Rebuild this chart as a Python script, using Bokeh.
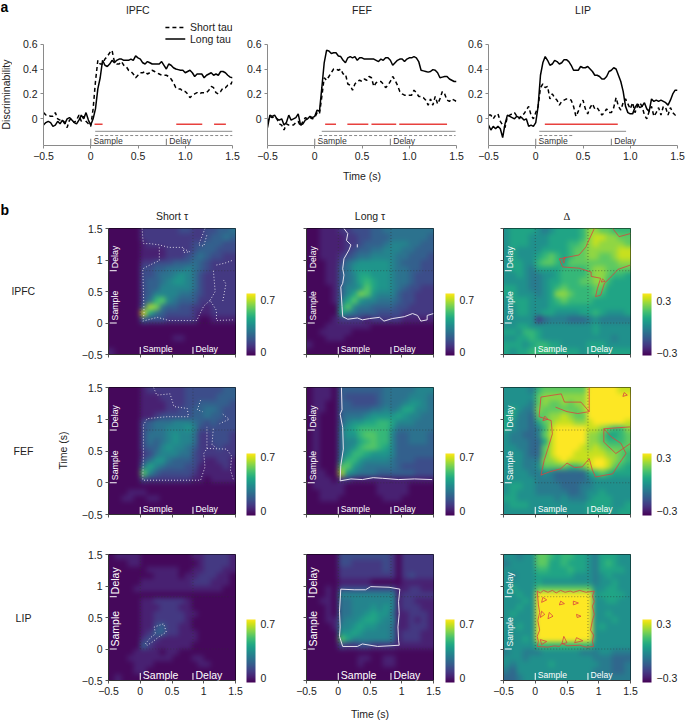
import math
import numpy as np
from bokeh.document import Document
from bokeh.embed import file_html
from bokeh.resources import INLINE
from bokeh.plotting import figure
from bokeh.layouts import column, row
from bokeh.models import Range1d, Label, LinearColorMapper, ColorBar, FixedTicker, CustomJS
from bokeh.palettes import Viridis256

FONT = "Liberation Sans"
t = [round(-0.5 + 0.025 * i, 3) for i in range(81)]

lpfc_long = [-.05,-.03,-.02,-.03,-.06,-.05,-.02,-.04,-.01,-.04,0,.01,-.01,-.03,-.04,-.01,.03,0,.05,-.01,-.05,0,.08,.24,.33,.47,.43,.42,.44,.47,.45,.47,.48,.48,.47,.47,.47,.48,.47,.505,.49,.48,.45,.44,.46,.45,.44,.44,.44,.44,.46,.43,.40,.44,.43,.41,.40,.395,.39,.39,.37,.38,.39,.37,.34,.36,.36,.36,.33,.35,.36,.37,.35,.36,.35,.38,.38,.37,.35,.335,.33]
lpfc_short = [.05,.03,.03,.02,.02,.05,0,-.01,-.01,-.03,-.07,-.01,0,-.03,-.01,.03,-.02,.02,-.02,-.04,-.06,.08,.3,.47,.44,.44,.48,.5,.53,.55,.46,.44,.44,.46,.43,.42,.39,.38,.36,.33,.35,.37,.37,.38,.36,.37,.39,.38,.37,.36,.35,.35,.35,.34,.32,.29,.25,.24,.24,.22,.22,.2,.17,.19,.2,.21,.2,.21,.21,.21,.23,.26,.25,.21,.2,.22,.25,.25,.27,.27,.3]
fef_long = [-.07,.03,.02,.03,0,-.01,0,-.05,-.03,.03,-.01,0,.01,.04,-.05,-.04,-.01,0,.02,.01,.02,.07,.06,.25,.45,.55,.545,.525,.53,.53,.505,.5,.47,.45,.49,.5,.49,.5,.47,.49,.49,.48,.48,.48,.48,.48,.47,.46,.48,.47,.49,.49,.47,.43,.45,.47,.48,.48,.46,.48,.49,.49,.5,.49,.46,.39,.385,.38,.375,.38,.395,.39,.37,.33,.335,.34,.34,.32,.31,.3,.3]
fef_short = [-.03,.02,.01,.02,0,-.04,-.05,-.09,-.04,-.05,-.05,-.05,-.03,-.02,-.06,-.02,.01,0,.01,0,.01,.05,.04,.18,.33,.31,.34,.37,.4,.4,.39,.4,.36,.36,.28,.27,.23,.28,.3,.31,.3,.32,.31,.34,.33,.26,.29,.3,.3,.28,.25,.27,.3,.34,.31,.27,.22,.2,.19,.19,.19,.19,.23,.21,.18,.18,.17,.15,.11,.16,.11,.18,.12,.16,.22,.2,.15,.14,.16,.15,.14]
lip_long = [-.05,-.09,-.06,-.08,-.06,-.08,-.15,-.04,.03,.02,.01,0,.02,.01,.01,-.01,0,-.06,-.05,-.06,-.03,.1,.35,.45,.5,.47,.43,.44,.47,.46,.44,.45,.475,.475,.46,.43,.39,.39,.39,.42,.41,.41,.42,.4,.38,.35,.35,.34,.32,.32,.34,.38,.39,.41,.4,.35,.3,.22,.1,.05,.04,.04,.09,.12,.09,.1,.13,.08,.06,.16,.14,.15,.14,.15,.14,.13,.11,.15,.2,.23,.23]
lip_short = [.03,.03,0,.03,.04,-.02,-.05,-.07,.02,.03,.04,.05,.02,0,.03,.04,.07,.1,.03,0,.05,.1,.25,.28,.25,.26,.16,.2,.17,.15,.11,.14,.15,.16,.16,.15,.1,.02,.06,.12,.15,.08,.04,.09,.12,.08,.09,.06,.03,.05,.08,.05,.05,.09,.17,.1,.07,.13,.16,.12,.08,.13,.05,.1,.13,.1,.03,0,.06,.1,.02,.05,.09,.03,.1,.09,.03,.09,.05,.03,.04]

sig_red = [[(.04,.125),(.905,1.18),(1.305,1.43)], [(.11,.225),(.345,.567),(.6,.862),(.894,1.4)], [(.096,.868)]]
sig_long = [(.047,1.5),(.074,1.49),(.037,.956)]
sig_short = [(.047,1.5),(.046,1.49),(.037,.4)]
area_names = ["lPFC","FEF","LIP"]

# grid rows from y=1.45 (top) to y=-0.45, columns from x=-0.45 to 1.45; unit 0.05
h_lpfc_short = [
[0,0,0,0,0,2,2,2,2,2,2,3,3,2,2,3,3,4,4,5],
[0,0,0,0,0,2,2,2,2,2,2,2,2,2,2,3,4,4,5,4],
[0,0,0,0,0,1,2,2,2,2,2,2,2,3,3,4,4,4,3,3],
[0,0,0,0,0,1,1,1,1,2,2,2,2,3,4,4,4,3,3,3],
[0,0,0,0,0,1,1,1,1,2,2,2,3,4,5,4,3,3,2,2],
[0,0,0,0,0,2,2,3,3,3,4,4,4,5,4,3,2,2,2,2],
[0,0,0,0,0,3,3,4,4,5,5,5,6,5,4,3,2,2,2,2],
[0,0,0,0,0,3,3,4,5,5,6,7,6,5,3,2,2,2,2,2],
[0,0,0,0,0,3,4,4,5,6,7,7,6,5,3,2,2,2,2,2],
[0,0,0,0,0,3,4,4,6,6,6,6,6,5,3,2,2,2,2,2],
[0,0,0,0,0,3,4,6,6,6,6,5,5,4,3,2,2,2,2,2],
[0,0,0,0,0,3,5,9,10,6,5,4,4,4,2,2,2,2,2,2],
[0,0,0,0,0,4,12,11,5,4,4,3,3,2,2,1,2,2,2,2],
[0,0,0,0,0,13,8,5,4,3,3,3,3,2,1,1,2,2,2,2],
[0,0,0,0,0,4,3,3,3,2,2,2,2,2,0,0,1,1,1,1],
[0,0,0,0,0,0,0,0,0,0,0,0,0,0,0,0,0,0,0,0],
[0,0,0,0,0,0,0,0,0,0,0,0,0,0,0,0,0,0,0,0],
[0,0,0,0,0,0,0,0,0,0,1,1,0,0,0,0,0,0,0,0],
[0,0,0,0,0,0,0,0,0,0,0,0,0,0,0,0,0,0,0,0],
[1,0,0,0,0,0,0,0,0,0,0,0,0,0,0,0,0,0,0,0]]
h_lpfc_long = [
[0,0,1,1,1,2,2,3,3,3,4,4,5,5,5,5,5,5,5,5],
[0,0,1,1,1,1,2,2,3,3,4,4,4,5,5,5,5,5,5,4],
[0,0,1,1,1,1,2,2,3,4,4,4,5,6,6,6,5,5,4,4],
[0,0,1,1,1,1,2,3,4,4,5,5,6,6,6,5,5,4,4,4],
[0,0,1,1,1,2,3,4,5,5,6,6,6,6,5,5,4,4,4,3],
[0,0,0,1,1,3,5,6,7,7,7,7,7,6,5,4,4,4,3,3],
[0,0,0,1,1,4,5,7,7,7,7,7,7,6,5,5,4,4,3,3],
[0,0,0,1,1,4,5,6,8,8,7,7,7,6,5,5,4,3,3,3],
[0,0,0,1,1,4,5,6,8,9,8,7,7,6,5,5,4,3,3,3],
[0,0,0,0,1,4,6,6,7,10,8,7,7,6,5,4,3,3,2,2],
[0,0,0,0,1,4,6,8,11,10,7,6,6,6,4,3,3,2,2,2],
[0,0,0,0,1,5,8,10,7,6,6,5,5,5,4,3,3,2,2,2],
[0,0,0,0,0,7,10,6,5,5,4,4,4,4,3,3,2,2,2,2],
[0,0,0,0,0,8,6,5,4,4,4,3,3,3,3,2,2,2,2,2],
[0,0,0,0,1,2,2,2,2,1,2,2,2,2,2,1,1,1,1,1],
[0,0,0,1,1,1,1,1,1,1,0,0,0,0,0,0,0,0,0,0],
[0,0,1,1,1,1,1,0,0,0,0,0,0,0,0,0,0,0,0,0],
[0,0,0,1,1,1,0,0,0,0,0,0,0,0,0,0,0,0,0,0],
[1,0,0,0,0,0,0,0,0,0,0,0,0,0,0,0,0,0,0,0],
[0,0,0,0,0,0,0,0,0,0,0,0,0,0,0,0,0,0,0,0]]
h_lpfc_delta = [
[0,1,1,1,1,0,-1,0,1,1,1,1,2,4,4,3,3,2,2,2],
[0,1,1,1,0,0,0,1,1,1,1,1,2,4,5,5,4,4,3,3],
[0,1,1,1,0,0,0,1,1,1,2,2,3,4,5,4,4,4,4,3],
[0,1,0,0,0,0,1,1,1,1,2,3,3,4,4,4,4,4,5,5],
[0,1,0,0,0,1,2,3,2,1,2,3,3,4,4,3,3,4,5,5],
[0,1,1,0,0,2,3,3,2,1,3,3,3,3,3,3,3,3,4,4],
[0,1,1,0,-1,1,1,1,1,2,2,2,2,3,4,4,3,3,3,3],
[0,0,1,0,-1,-1,0,0,1,2,2,2,2,3,4,4,3,2,2,1],
[0,0,0,0,-1,-1,0,1,1,2,2,2,3,3,4,4,2,1,1,1],
[1,1,0,0,-1,-1,0,1,2,3,2,2,2,2,3,3,1,1,1,1],
[1,1,0,0,0,-1,0,1,4,4,3,2,2,2,3,2,1,1,1,1],
[0,1,1,1,0,0,0,1,2,3,2,2,2,2,1,1,1,1,1,1],
[0,0,1,1,0,0,0,1,1,1,1,1,1,1,1,1,1,1,1,1],
[0,0,1,1,0,0,1,1,0,0,0,0,1,1,2,1,0,0,0,1],
[0,0,0,0,0,-4,-2,-1,-1,-1,-2,-2,-2,-1,0,-1,-1,-1,-1,-1],
[0,0,1,1,0,0,0,0,0,0,0,0,0,0,1,0,0,0,0,0],
[1,1,0,2,2,1,0,0,0,0,0,0,0,0,1,0,0,0,0,0],
[0,0,1,1,2,1,0,0,0,0,0,0,0,0,0,0,0,-1,0,0],
[1,1,1,0,1,2,2,1,1,0,0,0,0,1,1,1,0,0,0,0],
[1,0,1,1,2,2,2,2,1,1,1,1,0,1,1,1,1,1,1,1]]
h_fef_short = [
[0,0,0,0,0,1,2,2,2,2,2,2,3,3,3,3,3,3,4,4],
[0,0,0,0,0,1,1,1,2,2,2,2,3,3,3,3,3,4,4,4],
[0,0,0,0,0,1,1,1,1,2,2,2,3,3,4,4,4,4,4,3],
[0,0,0,0,0,1,1,1,1,2,2,3,3,4,4,5,5,4,3,3],
[0,0,0,0,0,1,1,2,3,3,3,3,3,4,4,5,4,4,3,3],
[0,0,0,0,0,3,4,5,5,5,6,6,6,5,4,3,4,3,3,3],
[0,0,0,0,0,3,4,5,5,6,6,6,7,6,3,3,3,3,3,3],
[0,0,0,0,0,3,5,5,5,6,7,6,6,5,2,2,3,3,3,2],
[0,0,0,0,0,3,5,4,5,6,7,6,6,5,2,2,3,3,3,2],
[0,0,0,0,0,3,4,4,6,7,6,6,5,4,2,2,2,3,2,2],
[0,0,0,0,0,2,3,5,6,6,6,5,5,3,2,2,2,2,2,2],
[0,0,0,0,0,3,5,7,7,5,4,4,4,3,2,1,1,2,2,1],
[0,0,0,0,0,5,8,6,5,4,4,4,3,3,1,1,1,1,2,1],
[0,0,0,0,0,10,6,4,3,3,3,3,3,2,1,1,1,1,1,1],
[0,0,0,0,0,3,2,2,2,2,2,2,2,1,1,0,1,1,1,1],
[0,0,0,0,0,0,0,0,0,0,0,0,0,0,0,0,0,0,0,0],
[0,0,0,1,1,1,0,0,0,0,0,0,0,0,0,0,0,0,0,0],
[0,0,1,1,0,0,1,1,0,0,0,0,0,0,0,0,0,0,0,0],
[0,0,0,0,0,0,0,0,0,0,0,0,0,0,0,0,0,0,0,0],
[0,0,0,0,0,0,0,0,0,0,0,0,0,0,0,0,0,0,0,0]]
h_fef_long = [
[0,1,1,1,0,4,4,4,4,4,4,4,5,5,5,5,5,6,6,6],
[0,1,1,1,0,4,3,3,3,3,3,4,5,5,5,5,6,6,6,5],
[0,1,1,0,0,4,4,3,3,3,3,4,5,5,5,6,7,7,6,5],
[0,1,1,0,0,4,4,4,4,4,5,5,6,5,6,8,8,6,6,5],
[0,1,0,0,0,4,5,5,5,6,7,7,7,7,8,7,6,6,5,5],
[0,1,0,0,0,4,6,7,7,8,8,9,9,8,6,6,6,5,5,5],
[0,1,0,0,0,5,7,8,9,9,9,9,9,7,5,5,5,5,5,5],
[0,1,0,0,0,5,7,7,9,10,10,9,9,6,4,4,5,5,5,4],
[0,1,0,0,0,5,6,6,8,9,10,9,9,6,4,4,5,5,5,4],
[0,1,0,0,0,5,6,7,9,10,10,9,8,6,4,4,4,4,4,4],
[0,1,0,0,0,5,7,9,9,8,7,7,7,6,4,4,4,4,4,4],
[0,1,0,0,0,6,9,9,7,6,6,6,6,5,4,4,4,3,3,3],
[0,1,0,0,0,10,10,7,6,5,5,5,5,5,4,3,3,3,3,3],
[0,1,1,0,0,12,7,6,5,5,5,4,4,4,4,4,4,3,3,3],
[0,1,1,1,0,2,2,1,1,1,1,1,1,1,1,1,1,1,1,1],
[0,1,1,1,1,1,0,0,0,0,0,1,1,1,1,1,0,0,0,0],
[0,0,1,1,1,1,0,0,0,0,0,1,1,1,1,1,0,0,0,0],
[0,0,1,1,1,0,0,0,0,0,0,0,1,1,1,0,0,0,0,0],
[0,0,0,0,0,0,0,0,0,0,0,0,0,0,0,0,0,0,0,0],
[0,0,0,0,0,0,0,0,0,0,0,0,0,0,0,0,0,0,0,0]]
h_fef_delta = [
[0,0,0,0,-1,2,3,3,3,3,3,3,3,6,6,6,6,6,5,5],
[0,0,0,0,0,3,4,4,4,4,4,4,4,6,6,6,6,6,6,6],
[0,0,0,0,-1,3,4,3,3,4,3,4,4,6,6,6,6,6,6,6],
[0,1,0,-1,-1,4,3,3,3,3,3,3,4,6,6,6,6,6,6,6],
[1,1,-1,-1,-2,3,3,4,4,5,4,3,3,6,6,6,6,6,6,6],
[1,0,-1,-1,-2,1,3,4,5,5,5,4,4,5,6,6,6,6,6,5],
[1,0,-1,-1,-2,-1,2,5,6,6,6,6,6,5,5,4,3,2,2,4],
[0,-1,-1,-2,-2,-1,3,5,6,6,6,6,6,4,4,3,1,1,2,3],
[0,-1,-1,-1,-2,-2,1,5,6,6,6,6,6,4,4,3,2,2,2,3],
[0,0,-1,-1,-2,-2,3,5,6,6,6,6,5,4,5,4,3,3,3,3],
[0,0,0,-1,-2,-2,3,5,6,6,6,5,5,5,5,5,4,4,3,2],
[0,0,0,-1,-1,-1,4,4,5,6,5,5,5,5,6,6,5,4,3,2],
[0,0,0,-1,-1,0,3,3,3,3,2,2,3,5,6,6,5,3,2,1],
[0,0,0,0,-1,-1,0,-1,-2,-2,-2,-2,-2,1,2,3,2,1,1,1],
[0,0,0,0,0,-1,-1,-1,-2,-2,-2,-2,-2,-1,0,0,0,0,0,0],
[0,1,1,0,0,-1,-1,-1,-1,-2,-2,-2,-1,-1,0,0,0,0,0,0],
[0,1,0,0,0,-1,-1,-1,-1,-1,-2,-2,-1,0,0,1,0,0,0,0],
[1,1,0,0,0,0,0,0,-1,0,-1,-1,-1,0,1,1,1,0,0,0],
[0,1,1,1,0,0,0,0,0,0,0,0,0,1,1,1,1,0,0,1],
[0,0,0,0,0,0,0,1,0,0,0,0,0,1,1,1,1,0,1,1]]
h_lip_short = [
[0,1,1,1,1,0,0,0,0,0,0,0,0,1,1,2,2,2,2,1],
[0,0,0,1,1,0,0,0,0,0,0,0,0,0,1,2,2,2,2,1],
[0,0,0,0,0,0,1,1,1,1,1,0,0,1,1,2,2,2,1,1],
[0,0,0,0,0,0,0,1,1,1,1,0,1,1,2,2,2,1,1,0],
[0,0,0,0,0,1,1,1,1,1,1,1,1,2,2,2,1,1,1,0],
[0,0,0,0,1,1,1,1,1,1,1,1,1,1,1,1,1,1,0,0],
[0,0,0,0,0,0,0,0,0,0,0,0,0,0,0,0,0,0,0,0],
[0,0,0,0,0,1,1,2,2,2,2,2,1,0,0,0,0,0,0,0],
[0,0,0,0,0,1,1,1,2,2,2,1,1,0,0,0,0,0,0,0],
[0,0,0,0,0,1,1,2,2,2,2,2,1,1,0,0,0,0,0,0],
[0,0,0,0,0,1,1,2,2,2,2,2,1,0,0,0,0,0,0,0],
[0,0,0,0,0,1,1,3,4,2,2,1,1,0,0,0,0,0,0,0],
[0,0,0,0,0,1,2,4,4,2,2,1,1,1,0,0,0,0,0,0],
[0,0,0,0,0,2,3,2,1,1,1,1,1,1,0,0,0,0,0,0],
[0,0,0,0,0,4,2,1,1,1,1,1,1,0,0,0,0,0,0,0],
[0,0,0,0,1,1,1,1,0,1,1,0,0,0,0,0,0,0,0,0],
[0,0,0,1,1,1,1,1,1,1,0,0,0,1,1,0,0,0,0,0],
[0,0,0,0,1,1,1,0,0,0,0,0,0,0,1,1,0,0,0,0],
[0,0,0,0,1,1,0,0,0,0,0,0,0,0,0,0,0,0,0,0],
[0,1,0,0,0,0,0,0,0,0,0,0,0,0,0,0,0,0,0,0]]
h_lip_long = [
[0,0,0,0,0,3,3,3,3,3,3,3,3,2,0,2,2,2,2,2],
[0,0,0,0,0,3,3,2,2,2,2,2,3,2,0,2,2,2,2,2],
[0,0,0,0,0,2,2,2,2,2,2,2,3,2,0,2,2,2,2,2],
[0,0,0,0,0,2,2,2,2,2,2,2,2,2,0,2,3,2,2,2],
[0,0,0,0,0,1,1,1,1,1,0,0,0,0,0,1,1,1,1,1],
[0,0,0,1,0,3,3,3,3,3,3,3,3,3,1,1,2,2,1,1],
[0,0,0,1,0,6,6,6,6,6,6,6,6,6,1,2,2,2,2,2],
[0,0,1,1,0,5,5,6,6,6,6,6,6,6,1,2,2,1,1,1],
[0,0,0,1,0,5,5,6,6,6,7,6,7,6,1,2,2,2,1,1],
[0,0,0,1,0,5,5,6,6,7,8,7,7,5,1,1,2,2,2,1],
[0,0,0,1,1,5,6,6,7,8,8,7,6,6,1,1,2,1,2,1],
[0,0,0,0,1,6,6,7,8,7,7,6,6,5,1,1,2,2,2,1],
[0,0,0,0,0,7,7,8,7,6,6,6,6,5,1,2,2,2,1,1],
[0,0,0,0,0,10,8,6,6,6,6,6,6,5,1,2,2,2,1,1],
[0,0,0,0,0,3,2,2,3,3,2,2,2,2,1,1,1,1,1,1],
[0,0,0,0,0,0,0,0,0,0,0,0,0,0,0,0,0,0,0,0],
[0,0,0,0,0,0,0,0,1,1,0,0,1,1,0,0,0,0,0,0],
[0,0,0,0,0,0,0,0,1,0,0,0,1,1,0,0,0,0,0,0],
[0,0,0,0,0,0,0,0,0,0,0,0,0,0,0,0,0,0,0,0],
[0,0,0,0,0,0,0,0,0,0,0,0,0,0,0,0,0,0,0,0]]
h_lip_delta = [
[0,0,-1,0,0,3,3,2,1,2,2,1,1,0,-1,1,1,1,0,0],
[-1,0,0,0,0,3,3,1,1,2,1,1,1,0,-1,1,2,1,0,0],
[0,0,0,0,0,2,2,1,1,1,2,1,1,0,-1,1,1,1,1,0],
[0,-1,0,0,0,1,1,1,1,1,1,0,0,0,-1,0,1,0,0,0],
[0,0,0,0,0,1,0,0,0,0,0,0,0,0,-1,0,0,1,0,0],
[0,1,0,0,0,3,3,3,3,3,3,3,3,3,0,0,1,1,0,0],
[0,0,1,0,0,6,6,6,6,6,6,6,6,6,0,1,1,1,1,0],
[0,0,0,1,0,6,6,6,6,6,6,6,6,6,0,0,1,1,0,0],
[0,0,1,0,0,6,6,6,6,6,6,6,6,6,0,0,0,0,0,0],
[0,1,0,0,0,6,6,6,6,6,6,6,6,6,0,0,1,0,0,0],
[0,0,0,0,0,6,6,6,6,6,6,6,6,6,0,0,0,1,0,0],
[0,0,1,0,0,6,6,6,6,6,6,6,6,6,0,1,0,0,0,0],
[0,0,0,0,0,6,6,6,6,6,6,6,6,6,0,0,0,0,0,0],
[0,0,0,1,0,6,6,6,6,6,6,6,6,6,0,0,0,0,0,0],
[0,0,0,0,0,2,2,2,2,2,2,2,2,2,0,0,0,0,0,0],
[-1,0,0,-1,-1,-1,0,0,0,0,0,0,-1,-1,-1,0,0,-1,-1,-1],
[0,0,0,-1,0,0,0,0,0,0,0,0,0,0,-1,-1,-1,-2,-2,-2],
[0,-1,0,0,0,0,0,1,0,0,0,0,0,0,0,-1,-1,-2,-2,-1],
[-1,-2,0,0,0,0,0,0,0,0,0,0,0,0,-1,-1,-1,-2,-2,-1],
[-2,-2,-1,0,0,0,0,0,0,0,0,0,0,0,-1,-1,-1,-1,-1,-1]]

c_lpfc_short = [
[(.03,1.5),(.04,1.35),(.05,1.26),(.15,1.26),(.3,1.24),(.45,1.2),(.68,1.2)],
[(.3,1.2),(.3,.99),(.15,.92),(.04,.86),(.05,.5),(.06,.15),(.04,.03),(.12,.05),(.27,.09),(.45,.04),(.89,.04),(1.0,.27),(1.1,.36),(1.2,.2),(1.2,.04),(1.47,.05)],
[(1.1,.36),(1.18,.5),(1.15,.85)],
[(1.02,1.5),(.95,1.32),(.92,1.24),(1.0,1.22),(1.05,1.4)],
[(.68,1.18),(.78,1.13),(.68,1.12),(.68,1.18)],
[(1.2,.92),(1.33,.95),(1.47,1.0)],
[(1.3,.35),(1.35,.62),(1.3,.7)]]
c_lpfc_long = [
[(.09,1.5),(.15,1.42),(.13,1.31),(.2,1.24),(.17,1.16),(.09,1.02),(.07,.86),(.09,.76),(.07,.63),(.04,.57),(.06,.26),(.07,.1),(.15,.06),(.3,.08),(.38,.05),(.49,.07),(.65,.09),(.72,.03),(.85,.07),(1.04,.1),(1.17,.15),(1.25,.12),(1.3,.03),(1.4,.05),(1.4,.12),(1.5,.15)],
[(.3,1.25),(.3,1.2)]]
c_lpfc_delta = [
[(.93,1.5),(.82,1.26),(.8,1.21),(.69,1.08),(.38,1.02),(.43,.89),(.69,.87),(.88,.81),(.88,.74),(1.03,.71),(.98,.55),(.95,.42),(1.03,.44),(1.09,.63),(1.22,.76),(1.3,.85),(1.5,.92)],
[(1.22,1.5),(1.32,1.37),(1.5,1.42)],
[(.43,1.0),(.47,1.05),(.45,.95),(.43,1.0)],
[(1.06,.7),(1.1,.66),(1.04,.65),(1.06,.7)]]
c_fef_short = [
[(.21,1.5),(.26,1.38),(.47,1.4),(.53,1.2),(.74,1.17),(.76,1.04),(.42,1.04),(.11,1.01),(.05,.91),(.05,.41),(.04,.04),(.42,.04),(.95,.04),(1.02,.25),(1.0,.46),(1.05,.54),(1.05,.88)],
[(1.05,.54),(1.36,.53),(1.44,.42),(1.42,.2),(1.47,.04)],
[(.95,1.3),(.9,1.15),(.98,1.12)],
[(1.3,1.08),(1.4,1.0),(1.25,.93)],
[(1.15,.85),(1.13,.6),(1.2,.55)]]
c_fef_long = [[(.05,1.5),(.06,1.15),(.03,1.08),(.07,.87),(.08,.53),(.04,.27),(.03,.03),(.2,.06),(.38,.05),(.55,.08),(.7,.07),(.95,.05),(1.2,.06),(1.48,.05)]]
c_fef_delta = [
[(.09,1.35),(.41,1.4),(.46,1.27),(.72,1.27),(.85,1.12),(.85,1.5)],
[(.09,1.35),(.06,1.04),(.25,.98),(.27,.77),(.2,.54),(.14,.35),(.09,.12),(.22,.17),(.4,.22),(.5,.31),(.62,.24),(.74,.25),(.85,.38),(.9,.2),(.95,.09),(1.1,.12),(1.22,.14),(1.32,.3),(1.43,.46),(1.35,.62),(1.2,.72),(1.08,.85),(1.08,.64),(1.27,.46),(1.5,.62)],
[(1.08,.85),(1.5,.88)],
[(.32,1.19),(.5,1.12),(.67,1.09),(.85,1.12)],
[(.15,1.05),(.2,1.0),(.12,.98),(.15,1.05)],
[(1.4,1.42),(1.45,1.38),(1.38,1.36),(1.4,1.42)]]
c_lip_short = [[(.08,.08),(.16,.18),(.24,.24),(.22,.35),(.37,.4),(.41,.27),(.29,.19),(.19,.11),(.11,.06),(.08,.08)]]
c_lip_long = [[(.04,.95),(.25,.94),(.43,.94),(.51,.99),(.8,.98),(.97,.95),(.95,.75),(.96,.56),(.94,.35),(.95,.14),(.96,.06),(.62,.04),(.38,.08),(.3,.04),(.07,.04),(.02,.2),(.03,.35),(.02,.6),(.04,.95)]]
c_lip_delta = [
[(.03,.92),(.08,.89),(.13,.93),(.2,.9),(.27,.93),(.33,.89),(.4,.93),(.47,.9),(.55,.92),(.6,.9),(.7,.93),(.8,.9),(.93,.92),(.9,.84),(.93,.75),(.9,.68),(.93,.55),(.9,.45),(.87,.3),(.92,.22),(.9,.12),(.92,.04),(.8,.03),(.7,.06),(.5,.05),(.42,.09),(.38,.04),(.3,.05),(.2,.03),(.03,.04),(.05,.12),(.03,.2),(.07,.3),(.04,.45),(.07,.58),(.05,.7),(.03,.92)],
[(.12,.82),(.18,.78),(.1,.74),(.12,.82)],[(.4,.76),(.46,.72),(.38,.7),(.4,.76)],[(.6,.76),(.68,.73),(.6,.7),(.6,.76)],
[(.1,.6),(.15,.55),(.08,.5),(.1,.6)],[(.22,.58),(.28,.52),(.2,.48),(.22,.58)],[(.65,.55),(.72,.52),(.66,.5),(.65,.55)],
[(.08,.15),(.18,.12),(.1,.07),(.08,.15)],[(.45,.2),(.5,.1),(.42,.08),(.45,.2)],[(.65,.18),(.75,.13),(.62,.1),(.65,.18)]]

GREY = "#8a8a8a"
TXT = "#222222"

def lab(p, x, y, s, size="10.5px", color=TXT, align="center", base="middle", angle=0, font=FONT, style="normal"):
    p.add_layout(Label(x=x, y=y, text=s, text_font=font, text_font_size=size,
                       text_color=color, text_align=align, text_baseline=base, angle=angle, text_font_style=style))

def style_axes(p, line_col, tick_col):
    for ax in (p.xaxis[0], p.yaxis[0]):
        ax.axis_line_color = line_col; ax.major_tick_line_color = tick_col
        ax.minor_tick_line_color = None; ax.major_tick_in = 0; ax.major_tick_out = 3
        ax.major_label_text_font = FONT; ax.major_label_text_font_size = "10.5px"
        ax.major_label_text_color = TXT; ax.major_label_standoff = 3
        ax.axis_label_text_font = FONT; ax.axis_label_text_font_size = "10.5px"
        ax.axis_label_text_color = TXT; ax.axis_label_text_font_style = "normal"

def strip(w, h):
    p = figure(width=w, height=h, frame_width=w, frame_height=h, x_range=Range1d(0, w), y_range=Range1d(h, 0),
               min_border=0, x_axis_location=None, y_axis_location=None, frame_align=False,
               output_backend="svg", toolbar_location=None, outline_line_color=None)
    p.grid.visible = False
    return p

TOP_H = 184

def line_panel(i, long_y, short_y, left, fw, right):
    p = figure(width=left+fw+right, height=TOP_H, frame_width=fw, frame_height=145,
               x_range=Range1d(-.5, 1.5), y_range=Range1d(-.214, .95),
               min_border_left=left, min_border_right=right, min_border_top=0, min_border_bottom=TOP_H-145,
               output_backend="svg", toolbar_location=None, outline_line_color=None)
    p.grid.visible = False
    p.xaxis.ticker = FixedTicker(ticks=[-.5, 0, .5, 1, 1.5])
    p.yaxis.ticker = FixedTicker(ticks=[0, .2, .4, .6])
    p.xaxis.major_label_overrides = {-.5: "\u22120.5", 0: "0", .5: "0.5", 1: "1.0", 1.5: "1.5"}
    p.yaxis.major_label_overrides = {0: "0", .2: "0.2", .4: "0.4", .6: "0.6"}
    p.yaxis.bounds = (-.214, .6)
    style_axes(p, GREY, GREY)
    p.line(t, short_y, line_color="black", line_width=1.5, line_dash="4 3")
    p.line(t, long_y, line_color="black", line_width=1.5)
    for a, b in sig_red[i]:
        p.line([a, b], [-.043, -.043], line_color="#e8413e", line_width=1.6)
    p.line(list(sig_long[i]), [-.1, -.1], line_color=GREY, line_width=1)
    p.line(list(sig_short[i]), [-.134, -.134], line_color=GREY, line_width=1, line_dash="3 2")
    p.line([0, 0], [-.214, -.16], line_color="#555555", line_width=.8)
    p.line([.8, .8], [-.214, -.16], line_color="#555555", line_width=.8)
    lab(p, .03, -.174, "Sample", "8.6px", "#333333", "left")
    lab(p, .83, -.174, "Delay", "8.6px", "#333333", "left")
    lab(p, .5, .872, area_names[i])
    return p

titles = {"short": "Short \u03c4", "long": "Long \u03c4", "delta": "\u0394"}
bar_hi_px = (7, 4, 4.5)
bar_lo_px = (3, 4.3, 4.5)

def heat_panel(grid, contours, kind, r, c, left, right, top, fh, bottom, mark_size):
    arr = np.array(grid, dtype=float)[::-1] * .05
    if kind == "delta":
        mapper = LinearColorMapper(palette=Viridis256, low=-.3, high=.3)
    else:
        mapper = LinearColorMapper(palette=Viridis256, low=0, high=.7)
        arr = arr + .015
    p = figure(width=left+127+right, height=top+fh+bottom, frame_width=127, frame_height=fh,
               x_range=Range1d(-.5, 1.5), y_range=Range1d(-.5, 1.5),
               min_border_left=left, min_border_right=right, min_border_top=top, min_border_bottom=bottom,
               output_backend="svg", toolbar_location=None, outline_line_color="black", outline_line_width=1)
    p.grid.visible = False
    pad = 3
    p.image(image=[np.pad(arr, pad, mode="edge")], x=-.5 - pad * .1, y=-.5 - pad * .1, dw=2 + 2 * pad * .1, dh=2 + 2 * pad * .1,
            color_mapper=mapper)
    ticks = [-.5, 0, .5, 1, 1.5]
    names = {-.5: "\u22120.5", 0: "0", .5: "0.5", 1: "1", 1.5: "1.5"}
    blank = {v: "" for v in ticks}
    p.xaxis.ticker = FixedTicker(ticks=ticks); p.yaxis.ticker = FixedTicker(ticks=ticks)
    p.xaxis.major_label_overrides = names if r == 2 else blank
    p.yaxis.major_label_overrides = names if c == 0 else blank
    style_axes(p, "#333333", "#555555")
    for v in (0, .83):
        p.line([v, v], [0, 1.5], line_color="#333333", line_width=.5, line_dash="1 2")
        p.line([0, 1.5], [v, v], line_color="#333333", line_width=.5, line_dash="1 2")
        p.line([v, v], [-.49, -.38], line_color="white", line_width=1)
        p.line([-.48, -.37], [v, v], line_color="white", line_width=1)
    styles = {"short": ("#e8e4ee", .9, "1 2"), "long": ("#e6e2ee", 1, "solid"), "delta": ("#d9433f", .8, "solid")}
    col, w, dash = styles[kind]
    for seg in contours:
        p.line([a for a, b in seg], [b for a, b in seg], line_color=col, line_width=w, line_dash=dash)
    for v, s in ((0, "Sample"), (.83, "Delay")):
        lab(p, v + .04, -.42, s, mark_size, "white", "left")
        lab(p, -.4, v + .04, s, mark_size, "white", "left", "middle", math.pi / 2)
    barh = 62 if r < 2 else 63
    per_px = (mapper.high - mapper.low) / barh
    tick_hi = round(mapper.high - bar_hi_px[r] * per_px, 3)
    tick_lo = round(mapper.low + bar_lo_px[r] * per_px, 3)
    hi, lo = ("0.3", "\u22120.3") if kind == "delta" else ("0.7", "0")
    cb = ColorBar(color_mapper=mapper, location=(138 if c == 0 else 139, -1 if r < 2 else -2), width=9, height=barh,
                  padding=0, margin=0, ticker=FixedTicker(ticks=[tick_lo, tick_hi]),
                  major_label_overrides={tick_lo: lo, tick_hi: hi},
                  major_tick_line_color=None, minor_tick_line_color=None, bar_line_color=None, border_line_color=None,
                  background_fill_color=None, label_standoff=5, major_label_text_font=FONT,
                  major_label_text_font_size="10.5px", major_label_text_color=TXT)
    p.add_layout(cb)
    if r == 0:
        p.title.text = titles[kind]
        p.title.align = "center"
        p.title.text_font = "Liberation Serif" if kind == "delta" else FONT
        p.title.text_font_size = "10.5px"
        p.title.text_font_style = "normal"
        p.title.text_color = TXT
        p.title.standoff = 13
    if r == 2 and c == 1:
        p.xaxis.axis_label = "Time (s)"
        p.xaxis.axis_label_standoff = 10
    return p

a0 = strip(12, TOP_H)
lab(a0, 0, 6.5, "a", "14px", "black", "left", "middle", style="bold")
lab(a0, 5.5, 94, "Discriminability", angle=math.pi / 2)
a1 = line_panel(0, lpfc_long, lpfc_short, 31, 189, 11)
a2 = line_panel(1, fef_long, fef_short, 24, 189, 8)
a3 = line_panel(2, lip_long, lip_short, 22, 189, 10)
a2.xaxis.axis_label = "Time (s)"
a2.xaxis.axis_label_standoff = 7
a1.line([.79, 1.0], [.734, .734], line_color="black", line_width=1.5, line_dash="4 3")
a1.line([.79, 1.0], [.64, .64], line_color="black", line_width=1.5)
lab(a1, 1.05, .734, "Short tau", align="left")
lab(a1, 1.05, .64, "Long tau", align="left")

rows = []
specs = [(44, 126, 16), (17, 127, 16), (24, 126, 40)]
maps = [[(h_lpfc_short, c_lpfc_short), (h_lpfc_long, c_lpfc_long), (h_lpfc_delta, c_lpfc_delta)],
        [(h_fef_short, c_fef_short), (h_fef_long, c_fef_long), (h_fef_delta, c_fef_delta)],
        [(h_lip_short, c_lip_short), (h_lip_long, c_lip_long), (h_lip_delta, c_lip_delta)]]
kinds = ["short", "long", "delta"]
borders = [(38, 44), (27, 43), (27, 54)]
sizes = [["8.8px", "8.6px", "8.6px"], ["8.8px", "8.6px", "8.6px"], ["10.5px", "10.5px", "8.6px"]]
area_y = [106.7, 80, 87]
for r in range(3):
    top, fh, bottom = specs[r]
    s = strip(70, top + fh + bottom)
    lab(s, 23, area_y[r], area_names[r])
    if r == 0:
        lab(s, 0, 25, "b", "14px", "black", "left", "middle", style="bold")
    if r == 1:
        lab(s, 62, area_y[r], "Time (s)", angle=math.pi / 2)
    figs = [s]
    for c in range(3):
        g, ct = maps[r][c]
        figs.append(heat_panel(g, ct, kinds[c], r, c, borders[c][0], borders[c][1], top, fh, bottom, sizes[r][c]))
    rows.append(row(*figs, spacing=0))

root = column(row(a0, a1, a2, a3, spacing=0), *rows, spacing=0)

# the read cells stay as they are; only their picture is softened, as in the reference
soften = CustomJS(code="""
function walk(n, out){ n.querySelectorAll('*').forEach(e=>{ if(e.tagName==='image') out.push(e); if(e.shadowRoot) walk(e.shadowRoot,out);}); }
function fix(){ const o=[]; walk(document,o); o.forEach(e=>{ if(parseFloat(e.getAttribute('width'))>50){ e.style.filter='blur(2.6px)'; } }); }
fix(); const h=setInterval(fix,100); setTimeout(()=>clearInterval(h),5000);
""")
doc = Document()
doc.add_root(root)
doc.js_on_event("document_ready", soften)
open("out.html", "w").write(file_html(doc, INLINE))
